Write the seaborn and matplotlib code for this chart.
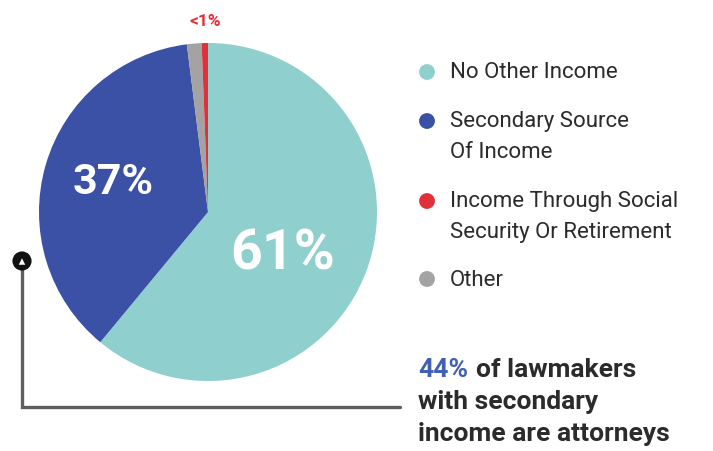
import matplotlib
matplotlib.use("Agg")
import matplotlib.pyplot as plt
import seaborn as sns

sns.set_theme(style="white")
plt.rcParams["font.family"] = ["Roboto", "DejaVu Sans"]

# Income sources of lawmakers (percent of members)
categories = ["No Other Income", "Secondary Source\nOf Income",
              "Income Through Social\nSecurity Or Retirement", "Other"]
shares = [61, 37, 0.6, 1.4]
slice_labels = ["61%", "37%", "<1%", ""]
colors = ["#8fcfcd", "#3a51a5", "#e0313a", "#a3a3a3"]

W, H = 713, 452
fig = plt.figure(figsize=(W / 100, H / 100), dpi=100)
ax = fig.add_axes([0, 0, 1, 1])


def py(y):
    # convert a top-down pixel row to the axes' bottom-up coordinate
    return H - y


cx, cy, r = 208, py(213), 169

# slices run clockwise from 12 o'clock: no other income, secondary, other, social security
pie_order = [0, 1, 3, 2]
ax.pie([shares[i] for i in pie_order], colors=[colors[i] for i in pie_order],
       startangle=90, counterclock=False, center=(cx, cy), radius=r,
       frame=True, wedgeprops=dict(linewidth=0))

ax.set_xlim(0, W)
ax.set_ylim(0, H)
ax.set_aspect("equal")
ax.axis("off")

ax.text(283, py(255), slice_labels[0], color="white", fontsize=40,
        fontweight="bold", ha="center", va="center")
ax.text(113, py(183), slice_labels[1], color="white", fontsize=31,
        fontweight="bold", ha="center", va="center")
ax.text(205, py(22), slice_labels[2], color="#e0313a", fontsize=12.5,
        fontweight="bold", ha="center", va="center")

# legend drawn as dots with labels
legend_rows = [73, 122, 202, 280]
text_color = "#2b2b2b"
for row, cat, col in zip(legend_rows, categories, colors):
    ax.scatter([427], [py(row)], s=130, color=col, edgecolor="none", zorder=3)
    for k, line in enumerate(cat.split("\n")):
        ax.text(450, py(row + 31 * k), line, fontsize=16, color=text_color,
                ha="left", va="center")

# callout connector from the secondary-income slice
ax.plot([22, 22, 400], [py(266), py(408), py(408)], color="#5e5e5e",
        linewidth=2.4, solid_joinstyle="miter", zorder=2)
ax.scatter([22], [py(262)], s=190, color="#111111", edgecolor="none", zorder=4)
ax.scatter([22], [py(262.5)], s=22, marker="^", color="white",
           edgecolor="none", zorder=5)

# callout text
fs = 19
pct = ax.text(418, py(370), "44%", fontsize=fs, fontweight="bold",
              color="#4160b3", ha="left", va="center")
fig.canvas.draw()
bb = pct.get_window_extent().transformed(ax.transData.inverted())
ax.text(bb.x1 + 8, py(370), "of lawmakers", fontsize=fs, fontweight="bold",
        color=text_color, ha="left", va="center")
ax.text(418, py(402), "with secondary", fontsize=fs, fontweight="bold",
        color=text_color, ha="left", va="center")
ax.text(418, py(434), "income are attorneys", fontsize=fs, fontweight="bold",
        color=text_color, ha="left", va="center")

fig.savefig("out.png", dpi=100, facecolor="white")
